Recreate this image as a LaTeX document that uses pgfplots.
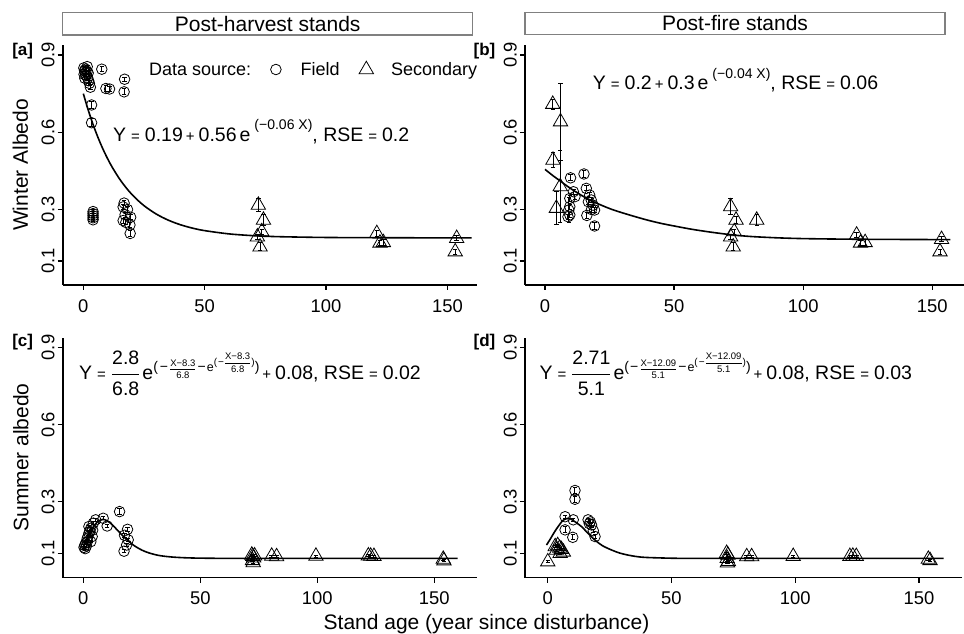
\documentclass[border=0pt]{standalone}
\usepackage{amsmath}
\usepackage{fontspec}
\setmainfont{Liberation Sans}
\usepackage{pgfplots}
\pgfplotsset{compat=1.18}
\usepackage{pgfplotstable}

% fonts (1 px of the reference = 1 pt)
\newcommand\tickfont{\fontsize{18.4}{20}\selectfont}
\newcommand\labfont{\fontsize{21}{24}\selectfont}
\newcommand\eqfont{\fontsize{19.5}{22}\selectfont}
\newcommand\opeq{\hspace{5pt}{\fontsize{15}{15}\selectfont=}\hspace{5pt}}
\newcommand\opplus{\hspace{3pt}{\fontsize{15}{15}\selectfont+}\hspace{4pt}}
\newcommand\bigfrac[2]{\ensuremath{\genfrac{}{}{0.9pt}{0}{\mbox{\rule[-7pt]{0pt}{7pt}#1}}{\mbox{\rule{0pt}{18pt}#2}}}}
\newcommand\smfrac[2]{{\fontsize{9.5}{10}\selectfont\ensuremath{\genfrac{}{}{0.5pt}{0}{\mbox{\rule[-1pt]{0pt}{1pt}#1}}{\mbox{\rule{0pt}{7.5pt}#2}}}}}
\newcommand\supf{\fontsize{14}{14}\selectfont}

% ---------- winter albedo, post-harvest ----------
\pgfplotstableread{
x y e
0.2 0.850 0.005
0.5 0.840 0.005
0.8 0.830 0.005
1.0 0.845 0.005
0.3 0.825 0.005
1.2 0.820 0.005
1.5 0.835 0.005
0.6 0.810 0.005
1.8 0.810 0.008
2.2 0.800 0.010
2.5 0.790 0.010
2.9 0.775 0.010
2.0 0.830 0.005
1.6 0.855 0.005
7.6 0.845 0.010
9.3 0.770 0.010
10.8 0.768 0.010
17.0 0.806 0.008
16.8 0.757 0.012
3.4 0.706 0.012
3.4 0.637 0.015
4.0 0.292 0.008
4.0 0.284 0.008
4.0 0.276 0.008
4.0 0.268 0.008
4.0 0.260 0.008
16.8 0.325 0.010
16.4 0.310 0.010
18.2 0.300 0.010
17.2 0.280 0.010
19.5 0.270 0.010
16.4 0.257 0.010
17.5 0.250 0.010
19.2 0.240 0.010
19.3 0.207 0.012
}\hwField

\pgfplotstableread{
x y e
72.1 0.317 0.025
74.2 0.259 0.020
73.5 0.214 0.010
71.7 0.194 0.010
72.8 0.155 0.015
120.9 0.207 0.010
122.2 0.170 0.010
123.6 0.172 0.010
153.8 0.188 0.010
153.2 0.136 0.010
}\hwSec

\pgfplotstableread{
x y
0 0.750
2 0.6867
4 0.6305
6 0.5807
8 0.5365
10 0.4973
12 0.4626
15 0.4177
18 0.3802
21 0.3489
25 0.3149
30 0.2826
35 0.2586
40 0.2408
45 0.2276
50 0.2179
60 0.2053
70 0.1984
80 0.1946
100 0.1914
130 0.1902
160 0.1900
}\hwFit

% ---------- winter albedo, post-fire ----------
\pgfplotstableread{
x y e
9.9 0.423 0.012
15.1 0.438 0.012
11.0 0.369 0.010
11.6 0.350 0.010
9.6 0.343 0.010
9.6 0.311 0.010
9.2 0.298 0.050
9.6 0.279 0.010
8.9 0.272 0.010
16.0 0.382 0.010
17.3 0.356 0.010
17.9 0.337 0.010
16.8 0.330 0.010
18.6 0.317 0.010
19.2 0.298 0.010
18.0 0.300 0.010
16.2 0.277 0.012
19.2 0.236 0.012
}\fwField

\pgfplotstableread{
x y e
3.0 0.709 0.020
6.0 0.641 0.150
3.1 0.492 0.030
5.9 0.389 0.140
4.4 0.305 0.065
71.9 0.311 0.030
74.0 0.259 0.015
73.3 0.214 0.010
71.9 0.194 0.010
72.9 0.155 0.015
82.0 0.259 0.020
120.7 0.201 0.010
122.2 0.170 0.010
124.0 0.172 0.010
153.6 0.184 0.010
153.0 0.136 0.010
}\fwSec

\pgfplotstableread{
x y
0 0.456
3 0.432
6 0.410
9 0.388
12 0.368
15 0.350
18 0.334
22 0.316
26 0.300
30 0.287
35 0.272
40 0.258
45 0.246
50 0.236
57 0.223
65 0.211
73 0.201
80 0.195
90 0.190
100 0.187
115 0.185
130 0.184
157 0.183
}\fwFit

% ---------- summer albedo, post-harvest ----------
\pgfplotstableread{
x y e
0.3 0.123 0.005
0.6 0.130 0.005
1.0 0.139 0.005
1.3 0.128 0.005
1.7 0.158 0.005
1.7 0.145 0.005
2.4 0.178 0.005
2.0 0.165 0.005
3.2 0.197 0.005
2.4 0.204 0.005
3.8 0.165 0.005
3.2 0.145 0.005
4.3 0.217 0.005
5.3 0.230 0.005
4.0 0.190 0.005
2.8 0.185 0.005
0.8 0.118 0.005
8.5 0.236 0.006
10.2 0.206 0.006
15.5 0.262 0.012
18.9 0.193 0.008
17.6 0.170 0.008
19.2 0.152 0.006
18.5 0.132 0.006
17.4 0.108 0.006
}\hsField

\pgfplotstableread{
x y e
72.0 0.093 0.004
72.4 0.088 0.004
72.8 0.082 0.004
72.3 0.072 0.004
72.6 0.064 0.004
73.2 0.090 0.004
80.5 0.089 0.004
82.6 0.087 0.004
99.4 0.089 0.004
121.8 0.090 0.004
122.8 0.089 0.004
124.2 0.088 0.004
153.8 0.077 0.004
154.1 0.071 0.004
}\hsSec

\pgfplotstableread{
x y
0 0.127
2 0.163
4 0.198
6 0.222
8.3 0.2315
10 0.227
12 0.214
14 0.1955
16 0.176
18 0.158
20 0.1416
22 0.128
25 0.1124
28 0.1015
32 0.092
36 0.087
40 0.084
45 0.082
50 0.081
60 0.0802
80 0.080
120 0.080
160 0.080
}\hsFit

% ---------- summer albedo, post-fire ----------
\pgfplotstableread{
x y e
7.0 0.242 0.006
11.0 0.344 0.012
11.0 0.310 0.012
10.3 0.230 0.006
7.0 0.191 0.012
10.1 0.162 0.010
16.3 0.230 0.006
17.2 0.222 0.008
17.7 0.210 0.008
16.8 0.215 0.006
18.4 0.188 0.006
19.1 0.165 0.006
}\fsField

\pgfplotstableread{
x y e
0.0 0.067 0.004
3.0 0.126 0.004
4.0 0.130 0.004
4.8 0.120 0.004
5.5 0.115 0.004
6.3 0.105 0.004
5.0 0.100 0.004
3.5 0.112 0.004
72.3 0.100 0.004
72.8 0.093 0.004
72.5 0.080 0.004
73.0 0.068 0.004
72.6 0.063 0.004
80.4 0.087 0.004
82.4 0.087 0.004
99.2 0.088 0.004
122.1 0.088 0.004
123.3 0.089 0.004
124.7 0.088 0.004
153.8 0.077 0.004
154.5 0.072 0.004
}\fsSec

\pgfplotstableread{
x y
-0.5 0.132
1 0.155
2.8 0.184
4.5 0.208
6.2 0.228
8.2 0.236
10 0.229
13.6 0.204
16 0.180
19 0.152
22 0.130
25.7 0.113
29 0.101
32.4 0.093
36 0.087
39.2 0.084
45 0.082
51.3 0.0805
60 0.080
80 0.080
120 0.080
160 0.080
}\fsFit

\pgfplotsset{
  albedo/.style={
    scale only axis,
    height=240pt,
    axis x line=bottom, axis y line=left,
    axis line style={line width=1.6pt, -},
    tick align=outside, major tick length=5pt,
    tick style={line width=1.2pt, black},
    xtick={0,50,100,150}, ytick={0.1,0.3,0.6,0.9},
    /pgf/number format/assume math mode=true,
    /pgf/number format/fixed,
    tick label style={font=\tickfont},
    yticklabel style={rotate=90, anchor=south, inner sep=3pt},
    xticklabel style={inner sep=5pt, yshift=-4pt},
  },
  field/.style={only marks, black, mark=o, mark size=5.3pt,
    mark options={line width=0.8pt},
    error bars/y dir=both, error bars/y explicit,
    error bars/error bar style={line width=1pt, black},
    error bars/error mark options={rotate=90, mark size=2.2pt, line width=1pt, black}},
  secondary/.style={field, mark=triangle, mark size=8.3pt},
  fit/.style={no marks, smooth, black, line width=1.6pt},
  keyimg/.style={legend image code/.code={%
      \path (-13pt,0pt) (24.5pt,0pt);
      \draw[mark repeat=2,mark phase=2,##1] plot coordinates {(-4pt,0pt) (0pt,0pt) (4pt,0pt)};}},
}

\begin{document}
\begin{tikzpicture}
\useasboundingbox (0,0) rectangle (964pt,634pt);

% [a] winter, post-harvest
\begin{axis}[albedo, at={(62.7pt,349pt)}, anchor=south west, width=414.6pt,
    xmin=-8.5, xmax=162.3, ymin=0.0068, ymax=0.939,
    legend style={at={(0.4824,0.9)}, anchor=west, draw=none, fill=none,
      inner sep=0pt, outer sep=0pt, font=\fontsize{18}{20}\selectfont,
      nodes={inner sep=0pt},
      /tikz/every even column/.append style={column sep=13.5pt}},
    legend columns=2]
\addplot[fit, forget plot] table[x=x,y=y] {\hwFit};
\addplot[field, forget plot] table[x=x,y=y,y error=e] {\hwField};
\addplot[secondary, forget plot] table[x=x,y=y,y error=e] {\hwSec};
\addlegendimage{only marks, black, mark=o, mark size=5.3pt, mark options={line width=0.8pt}, keyimg}
\addlegendentry{Field}
\addlegendimage{only marks, black, mark=triangle, mark size=8.3pt, mark options={line width=0.8pt}, keyimg}
\addlegendentry{Secondary}
\end{axis}

% [b] winter, post-fire
\begin{axis}[albedo, at={(525pt,349pt)}, anchor=south west, width=439pt,
    xmin=-7.75, xmax=162.3, ymin=0.0068, ymax=0.939]
\addplot[fit] table[x=x,y=y] {\fwFit};
\addplot[field] table[x=x,y=y,y error=e] {\fwField};
\addplot[secondary] table[x=x,y=y,y error=e] {\fwSec};
\end{axis}

% [c] summer, post-harvest
\begin{axis}[albedo, at={(62.7pt,56.3pt)}, anchor=south west, width=414pt,
    xmin=-8.8, xmax=168.1, ymin=0.005, ymax=0.938]
\addplot[fit] table[x=x,y=y] {\hsFit};
\addplot[field] table[x=x,y=y,y error=e] {\hsField};
\addplot[secondary] table[x=x,y=y,y error=e] {\hsSec};
\end{axis}

% [d] summer, post-fire
\begin{axis}[albedo, at={(525pt,56.3pt)}, anchor=south west, width=436.7pt,
    xmin=-9.2, xmax=167.3, ymin=0.005, ymax=0.938]
\addplot[fit] table[x=x,y=y] {\fsFit};
\addplot[field] table[x=x,y=y,y error=e] {\fsField};
\addplot[secondary] table[x=x,y=y,y error=e] {\fsSec};
\end{axis}

% strips
\draw[gray, line width=1.3pt] (62.7pt,599pt) rectangle (472.7pt,621.7pt);
\node[font=\labfont, inner sep=0pt] at (267.7pt,609.8pt) {Post-harvest stands};
\draw[gray, line width=1.3pt] (525pt,599.7pt) rectangle (945pt,621.7pt);
\node[font=\labfont, inner sep=0pt] at (735pt,611pt) {Post-fire stands};

% panel tags
\foreach \t/\x/\y in {a/22.7/583, b/484.5/583, c/22.7/291.5, d/484.5/291.5}
  \node[font=\bfseries\fontsize{17}{18}\selectfont, inner sep=0pt] at (\x pt,\y pt) {[\t]};

% axis titles
\node[rotate=90, anchor=base, font=\labfont, inner sep=0pt] at (28pt,469pt) {Winter Albedo};
\node[rotate=90, anchor=base, font=\labfont, inner sep=0pt] at (28.3pt,176.5pt) {Summer albedo};
\node[anchor=base, font=\labfont, inner sep=0pt] at (486.5pt,4pt) {Stand age (year since disturbance)};

% legend lead text
\node[anchor=west, font=\fontsize{18}{20}\selectfont, inner sep=0pt] at (149pt,565pt) {Data source:};

% fitted equations
\node[anchor=base west, font=\eqfont, inner sep=0pt] at (113pt,492.3pt)
  {Y\opeq 0.19\opplus 0.56\hspace{3pt}e\hspace{4pt}\raisebox{0.6em}{\supf(−0.06 X)}, RSE\opeq 0.2};
\node[anchor=base west, font=\eqfont, inner sep=0pt] at (592.7pt,544pt)
  {Y\opeq 0.2\opplus 0.3\hspace{3pt}e\hspace{4pt}\raisebox{0.6em}{\supf(−0.04 X)}, RSE\opeq 0.06};
\node[anchor=base west, font=\eqfont, inner sep=0pt] at (79pt,254pt)
  {Y\opeq\bigfrac{2.8}{6.8}\hspace{2pt}e\raisebox{8pt}{\supf(\hspace{2pt}−\hspace{1pt}\smfrac{X−8.3}{6.8}\hspace{1pt}−\hspace{1pt}{\fontsize{12.5}{13}\selectfont e}\raisebox{6.5pt}{{\fontsize{10}{10}\selectfont(\hspace{1pt}−}\smfrac{X−8.3}{6.8}{\fontsize{10}{10}\selectfont)}})}\opplus 0.08, RSE\opeq 0.02};
\node[anchor=base west, font=\eqfont, inner sep=0pt] at (539.3pt,254pt)
  {Y\opeq\bigfrac{2.71}{5.1}\hspace{2pt}e\raisebox{8pt}{\supf(\hspace{1pt}−\hspace{1pt}\smfrac{X−12.09}{5.1}\hspace{1pt}−\hspace{1pt}{\fontsize{12.5}{13}\selectfont e}\raisebox{6.5pt}{{\fontsize{10}{10}\selectfont(\hspace{1pt}−}\smfrac{X−12.09}{5.1}{\fontsize{10}{10}\selectfont)}})}\opplus 0.08, RSE\opeq 0.03};
\end{tikzpicture}
\end{document}
